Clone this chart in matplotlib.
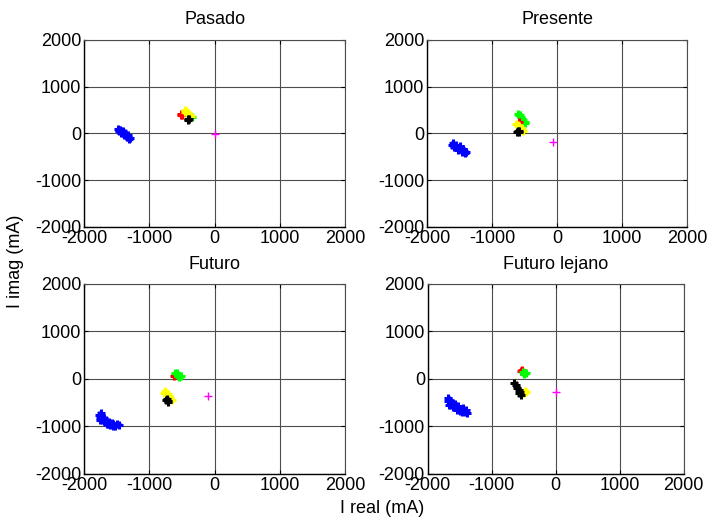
import numpy as np
import matplotlib.pyplot as plt

plt.rcParams['font.family'] = ['Liberation Sans', 'DejaVu Sans']
plt.rcParams['axes.unicode_minus'] = False

titles = ['Pasado', 'Presente', 'Futuro', 'Futuro lejano']
ticks = [-2000, -1000, 0, 1000, 2000]

# puntos (real, imag) en mA por panel y color
pasado = {
    'blue': ([-1480, -1460, -1440, -1420, -1400, -1380, -1360, -1340, -1320, -1300,
              -1470, -1430, -1390, -1350, -1310, -1450, -1410, -1370, -1330],
             [90, 70, 50, 30, 10, -10, -30, -50, -70, -100,
              40, 0, -40, -80, -110, 80, 40, 0, -40]),
    'lime': ([-350], [360]),
    'red': ([-520, -500, -510], [410, 400, 390]),
    'yellow': ([-460, -440, -420, -400, -380, -450, -360], [490, 470, 440, 420, 400, 450, 380]),
    'black': ([-410, -400, -390], [310, 290, 300]),
    'magenta': ([0], [-20]),
}
presente = {
    'blue': ([-1610, -1580, -1550, -1520, -1490, -1460, -1430, -1400, -1590, -1530, -1470, -1420,
              -1600, -1560, -1500, -1440],
             [-240, -265, -290, -310, -330, -350, -375, -400, -300, -350, -400, -430,
              -210, -240, -280, -330]),
    'lime': ([-600, -580, -560, -540, -520, -500, -490, -570], [420, 390, 350, 310, 280, 250, 230, 400]),
    'red': ([-580], [250]),
    'yellow': ([-630, -600, -580, -560, -540, -520], [210, 180, 150, 120, 90, 60]),
    'black': ([-600, -590, -580, -610], [40, 20, 50, 30]),
    'magenta': ([-60], [-180]),
}
futuro = {
    'blue': ([-1770, -1740, -1760, -1700, -1720, -1660, -1680, -1620, -1640, -1580, -1560, -1500, -1460,
              -1600, -1700, -1750, -1650, -1550, -1520, -1740],
             [-760, -780, -820, -820, -860, -860, -900, -900, -940, -930, -960, -960, -980,
              -970, -880, -870, -960, -990, -990, -720]),
    'red': ([-620, -610], [60, 80]),
    'lime': ([-600, -580, -560, -540, -520, -570, -550], [120, 100, 80, 60, 70, 130, 50]),
    'yellow': ([-760, -740, -720, -700, -680, -650, -770], [-260, -290, -320, -360, -400, -440, -300]),
    'black': ([-730, -720, -710, -740], [-420, -460, -480, -450]),
    'magenta': ([-100], [-350]),
}
lejano = {
    'blue': ([-1690, -1660, -1640, -1680, -1620, -1590, -1560, -1530, -1500, -1460, -1420, -1380,
              -1600, -1550, -1480, -1640, -1660, -1610, -1570, -1520, -1450, -1400],
             [-410, -450, -490, -470, -520, -560, -600, -640, -680, -700, -700, -720,
              -600, -660, -640, -540, -540, -500, -530, -580, -620, -660]),
    'red': ([-540, -520], [170, 180]),
    'lime': ([-510, -490, -500, -470], [150, 130, 100, 120]),
    'yellow': ([-480, -460, -490], [-250, -270, -290]),
    'black': ([-650, -620, -600, -580, -560, -540, -570], [-80, -130, -190, -240, -280, -330, -300]),
    'magenta': ([0], [-270]),
}
paneles = [pasado, presente, futuro, lejano]

fig = plt.figure(figsize=(7.07, 5.23), dpi=100)
rects = [[0.119, 0.566, 0.369, 0.358],
         [0.604, 0.566, 0.368, 0.358],
         [0.119, 0.094, 0.369, 0.363],
         [0.605, 0.094, 0.362, 0.363]]

for rect, titulo, datos in zip(rects, titles, paneles):
    ax = fig.add_axes(rect)
    for color, (xs, ys) in datos.items():
        if color == 'magenta':
            ax.plot(xs, ys, '+', color=color, ms=6, mew=1, zorder=3)
        else:
            ax.plot(xs, ys, '+', color=color, ms=6, mew=2.2, zorder=3)
    ax.set_xlim(-2000, 2000)
    ax.set_ylim(-2000, 2000)
    ax.set_xticks(ticks)
    ax.set_yticks(ticks)
    ax.grid(True, color='0.3', lw=0.8)
    ax.set_axisbelow(True)
    ax.tick_params(direction='in', length=3, labelsize=13, pad=2, top=True, right=True)
    for s in ['top', 'right']:
        ax.spines[s].set_color('0.3')
        ax.spines[s].set_linewidth(0.8)
    for s in ['left', 'bottom']:
        ax.spines[s].set_linewidth(1.0)
    ax.set_title(titulo, fontsize=13, pad=11)

fig.text(0.54, 0.028, 'I real (mA)', ha='center', va='center', fontsize=13)
fig.text(0.022, 0.5, 'I imag (mA)', ha='center', va='center', rotation=90, fontsize=13)

fig.savefig('out.png', dpi=100)
